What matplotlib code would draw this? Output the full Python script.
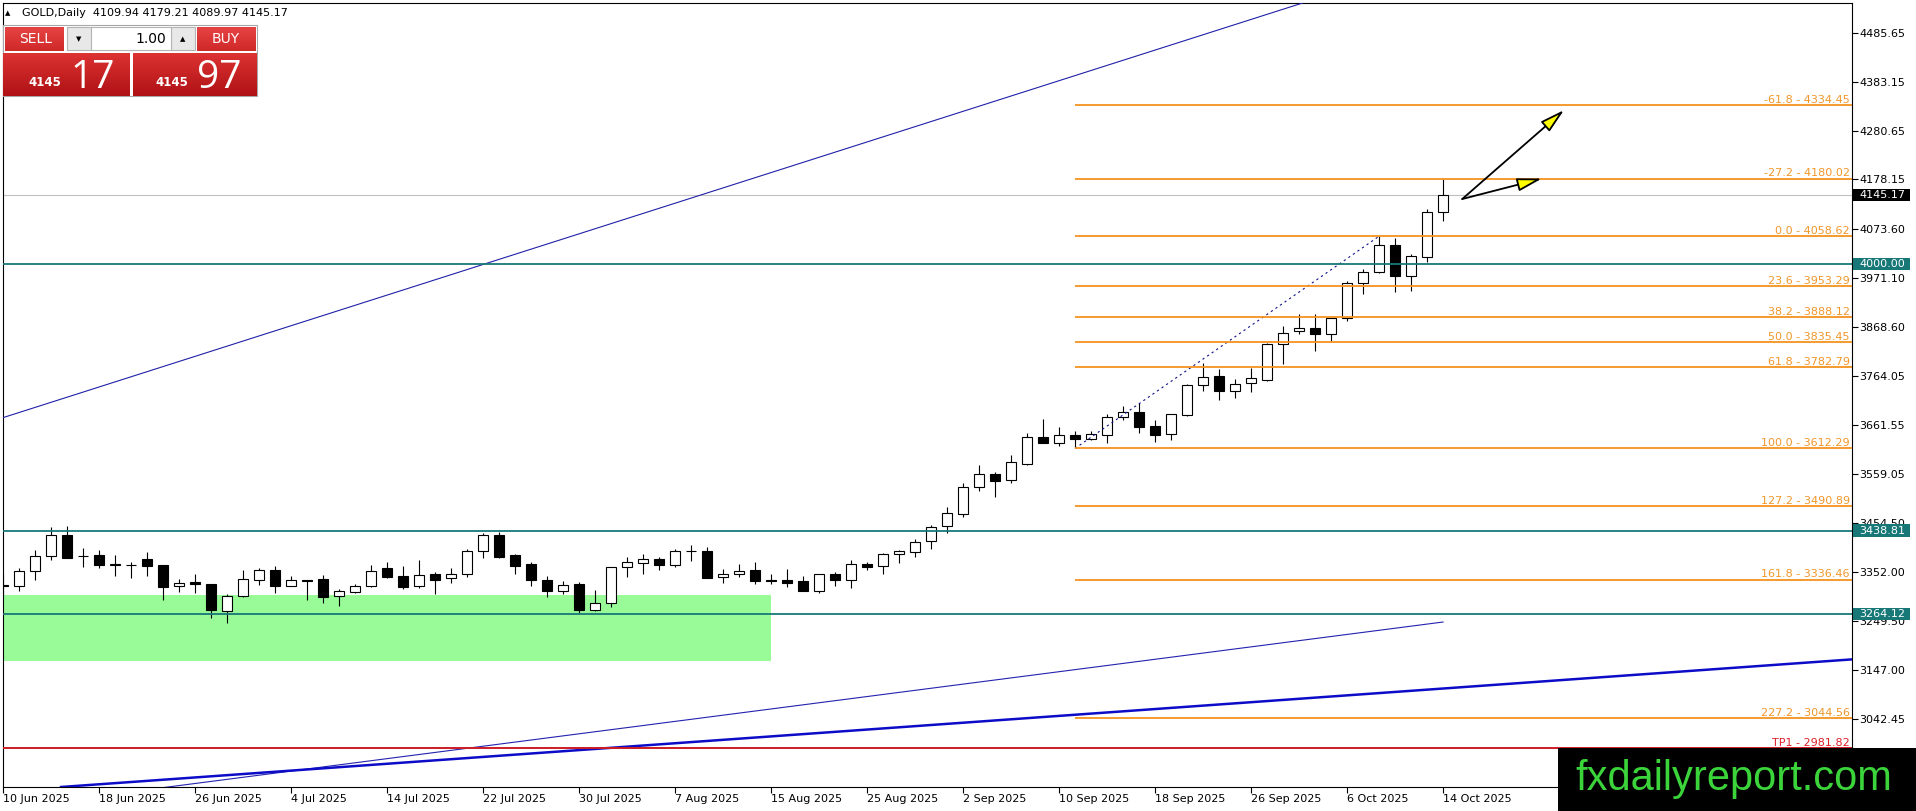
import numpy as np
import matplotlib
matplotlib.use('Agg')
from matplotlib import pyplot as plt
from matplotlib.patches import Rectangle
from matplotlib.transforms import blended_transform_factory

# daily GOLD candles, 10 Jun 2025 .. 14 Oct 2025
opens = [3324, 3322, 3354, 3385, 3431, 3386, 3388, 3368, 3368, 3380,
         3367, 3322, 3331, 3326, 3271, 3301, 3336, 3356, 3323, 3335,
         3337, 3301, 3311, 3322, 3361, 3344, 3322, 3348, 3339, 3349,
         3396, 3431, 3388, 3369, 3335, 3313, 3327, 3273, 3288, 3362,
         3372, 3380, 3368, 3396, 3396, 3341, 3347, 3356, 3335, 3335,
         3333, 3313, 3347, 3336, 3370, 3365, 3391, 3395, 3417, 3448,
         3475, 3532, 3558, 3545, 3579, 3636, 3624, 3640, 3633, 3641,
         3679, 3688, 3659, 3643, 3683, 3745, 3765, 3734, 3749, 3756,
         3832, 3859, 3865, 3854, 3886, 3960, 3983, 4040, 3974, 4016,
         4109.94]
highs = [3347, 3361, 3398, 3446, 3450, 3402, 3398, 3388, 3373, 3394,
         3368, 3337, 3349, 3327, 3307, 3356, 3360, 3365, 3344, 3336,
         3346, 3316, 3328, 3368, 3373, 3365, 3377, 3353, 3360, 3401,
         3434, 3437, 3391, 3373, 3344, 3333, 3332, 3314, 3363, 3384,
         3390, 3384, 3401, 3409, 3405, 3358, 3370, 3373, 3348, 3358,
         3344, 3349, 3353, 3378, 3374, 3392, 3398, 3422, 3452, 3488,
         3540, 3577, 3562, 3598, 3644, 3675, 3657, 3649, 3649, 3685,
         3701, 3707, 3672, 3685, 3748, 3791, 3779, 3759, 3781, 3835,
         3870, 3895, 3895, 3887, 3964, 3990, 4058.62, 4056, 4021, 4115,
         4179.21]
lows = [3302, 3313, 3336, 3378, 3381, 3363, 3361, 3344, 3339, 3344,
        3294, 3311, 3308, 3255, 3246, 3300, 3325, 3308, 3322, 3294,
        3286, 3281, 3309, 3321, 3339, 3316, 3318, 3307, 3329, 3342,
        3381, 3381, 3348, 3323, 3300, 3306, 3267, 3271, 3279, 3342,
        3348, 3357, 3363, 3376, 3339, 3330, 3341, 3328, 3328, 3321,
        3312, 3309, 3323, 3319, 3356, 3348, 3372, 3383, 3401, 3435,
        3469, 3523, 3509, 3539, 3578, 3623, 3618, 3612.29, 3629, 3624,
        3673, 3644, 3626, 3631, 3680, 3734, 3715, 3719, 3732, 3755,
        3790, 3852, 3818, 3838, 3881, 3937, 3982, 3942, 3944, 4005,
        4089.97]
closes = [3323, 3354, 3385, 3431, 3382, 3385, 3367, 3369, 3367, 3365,
          3321, 3330, 3326, 3273, 3301, 3337, 3356, 3323, 3335, 3334,
          3300, 3312, 3323, 3354, 3342, 3321, 3346, 3336, 3349, 3396,
          3430, 3384, 3365, 3335, 3313, 3325, 3272, 3288, 3363, 3373,
          3380, 3368, 3396, 3397, 3340, 3348, 3354, 3334, 3334, 3330,
          3313, 3347, 3336, 3370, 3363, 3391, 3396, 3415, 3446, 3476,
          3532, 3558, 3544, 3584, 3636, 3624, 3640, 3633, 3642, 3678,
          3688, 3658, 3641, 3684, 3745, 3762, 3734, 3747, 3760, 3832,
          3856, 3865, 3854, 3887, 3960, 3983, 4040, 3974, 4017, 4109,
          4145.17]

date_labels = ['10 Jun 2025', '18 Jun 2025', '26 Jun 2025', '4 Jul 2025',
               '14 Jul 2025', '22 Jul 2025', '30 Jul 2025', '7 Aug 2025',
               '15 Aug 2025', '25 Aug 2025', '2 Sep 2025', '10 Sep 2025',
               '18 Sep 2025', '26 Sep 2025', '6 Oct 2025', '14 Oct 2025']
date_step = 6

price_ticks = [4485.65, 4383.15, 4280.65, 4178.15, 4073.60, 3971.10, 3868.60,
               3764.05, 3661.55, 3559.05, 3454.50, 3352.00, 3249.50, 3147.00,
               3042.45]

fib_ratios = ['-61.8', '-27.2', '0.0', '23.6', '38.2', '50.0', '61.8',
              '100.0', '127.2', '161.8', '227.2']
fib_prices = [4334.45, 4180.02, 4058.62, 3953.29, 3888.12, 3835.45, 3782.79,
              3612.29, 3490.89, 3336.46, 3044.56]
fib_start_bar = 67
fib_base = [(67, 3612.29), (86, 4058.62)]

teal_levels = [4000.00, 3438.81, 3264.12]
tp1_level = 2981.82
last_price = 4145.17

zone_bars = (-2, 48)
zone_prices = (3165, 3304)

trend_top = [(0, 3677), (81, 4547)]
trend_thin = [(0, 2855), (90, 3247)]
trend_thick = [(3.67, 2900), (115.6, 3168.5)]
arrow_tail = (91.2, 4137)
arrow_tips = [(97.56, 4324), (96.17, 4180)]

header = 'GOLD,Daily  4109.94 4179.21 4089.97 4145.17'

ORANGE = '#f4921f'
TEAL = '#187878'

plt.rcParams['font.family'] = ['DejaVu Sans']

W, H = 1916, 811
fig = plt.figure(figsize=(W / 100, H / 100), dpi=100)
fig.patch.set_facecolor('white')
ax = fig.add_axes([2.5 / W, (H - 787) / H, (1852 - 2.5) / W, (787 - 3) / H])
ax.set_xlim(-0.03, 115.56)
ax.set_ylim(2899.9, 4549.4)

# candles
x = np.arange(len(opens))
o = np.array(opens, float)
c = np.array(closes, float)
up = c >= o
ax.vlines(x, lows, highs, color='black', lw=0.8, zorder=3)
bottom = np.minimum(o, c)
height = np.maximum(np.abs(c - o), 0.4)
ax.bar(x, height, bottom=bottom, width=0.62,
       color=np.where(up, 'white', 'black'), edgecolor='black',
       linewidth=0.8, zorder=4)

# support zone
ax.add_patch(Rectangle((zone_bars[0], zone_prices[0]),
                       zone_bars[1] - zone_bars[0],
                       zone_prices[1] - zone_prices[0],
                       facecolor='#98fb98', edgecolor='none', zorder=1))

# trend lines
ax.axline(trend_top[0], trend_top[1], color='#2020a8', lw=0.8, zorder=5)
ax.plot(*zip(*trend_thin), color='#2323b0', lw=0.8, zorder=5)
ax.axline(trend_thick[0], trend_thick[1], color='#0c0cc8', lw=1.8, zorder=5)
ax.plot(*zip(*fib_base), color='#10108a', lw=0.8, ls=(0, (2, 3)), zorder=5)

# horizontal levels
ax.axhline(last_price, color='#c0c0c0', lw=0.8, zorder=2)
for lv in teal_levels:
    ax.axhline(lv, color=TEAL, lw=1.3, zorder=6)
ax.axhline(tp1_level, color='#cc1c24', lw=1.4, zorder=6)

ax.hlines(fib_prices, fib_start_bar, 115.56, color=ORANGE, lw=1.3, zorder=6)
lab_tr = blended_transform_factory(ax.transAxes, ax.transData)
for r, p in zip(fib_ratios, fib_prices):
    ax.text(0.9989, p + 1, f'{r} - {p:.2f}', transform=lab_tr, ha='right',
            va='bottom', fontsize=8, color='#f0962a', zorder=7)
ax.text(0.9989, tp1_level + 1, f'TP1 - {tp1_level:.2f}', transform=lab_tr,
        ha='right', va='bottom', fontsize=8, color='#e0202a', zorder=7)

# arrows
for tip in arrow_tips:
    ax.annotate('', xy=tip, xytext=arrow_tail,
                arrowprops=dict(arrowstyle='-|>,head_length=1.5,head_width=0.4',
                                mutation_scale=10, fc='#ffff00', ec='black',
                                lw=1.3, shrinkA=0, shrinkB=0), zorder=8)

# axes styling
for s in ax.spines.values():
    s.set_linewidth(0.8)
    s.set_color('black')
ax.yaxis.tick_right()
ax.set_yticks(price_ticks)
ax.set_yticklabels([f'{p:.2f}' for p in price_ticks])
ax.set_xticks(np.arange(len(date_labels)) * date_step)
ax.set_xticklabels(date_labels)
plt.setp(ax.get_xticklabels(), ha='left')
ax.tick_params(axis='y', direction='out', length=4, width=0.8, pad=1,
               labelsize=8, colors='black')
ax.tick_params(axis='x', direction='out', length=4, width=0.8, pad=1,
               labelsize=8, colors='black')

# price boxes on the scale
for p, col in [(last_price, 'black')] + [(lv, TEAL) for lv in teal_levels]:
    ax.add_patch(Rectangle((1.0008, p - 13.4), 0.0303, 26.8, transform=lab_tr,
                           facecolor=col, edgecolor='none', clip_on=False,
                           zorder=9))
    ax.text(1.0038, p, f'{p:.2f}', transform=lab_tr, ha='left', va='center',
            fontsize=8, color='white', zorder=10, clip_on=False)

# overlay in pixel coordinates: header, trade panel, watermark
ov = fig.add_axes([0, 0, 1, 1], zorder=10)
ov.patch.set_visible(False)
ov.axis('off')


def grad_box(x0, y0, x1, y1, top, bot):
    cm = matplotlib.colors.LinearSegmentedColormap.from_list('g', [top, bot])
    ov.imshow(np.linspace(0, 1, 32).reshape(-1, 1), cmap=cm, aspect='auto',
              extent=(x0, x1, y1, y0), interpolation='bilinear', zorder=2)


ov.text(8, 13, '\u25b2', fontsize=5, va='center', ha='center')
ov.text(22, 13, header, fontsize=8, va='center', ha='left')

ov.add_patch(Rectangle((3, 25), 254, 71, facecolor='white',
                       edgecolor='#a8a8a8', lw=0.8, zorder=1))
grad_box(5, 27, 64, 51, '#e64444', '#d02828')
grad_box(197, 27, 256, 51, '#e64444', '#d02828')
grad_box(3, 53, 130, 96, '#dc3232', '#b01216')
grad_box(133, 53, 257, 96, '#dc3232', '#b01216')
for bx in (67, 171):
    ov.add_patch(Rectangle((bx, 27), 24, 23, facecolor='#e8e8e8',
                           edgecolor='#b4b4b4', lw=0.8, zorder=3))
ov.add_patch(Rectangle((91, 27), 80, 23, facecolor='white',
                       edgecolor='#b4b4b4', lw=0.8, zorder=3))
ov.text(79, 39, '\u25bc', fontsize=5, ha='center', va='center', zorder=4)
ov.text(183, 39, '\u25b2', fontsize=5, ha='center', va='center', zorder=4)
ov.text(166, 39, '1.00', fontsize=10, ha='right', va='center', zorder=4)
ov.text(36, 39, 'SELL', fontsize=10, ha='center', va='center', color='white',
        zorder=4)
ov.text(226, 39, 'BUY', fontsize=10, ha='center', va='center', color='white',
        zorder=4)
for x0, big in [(28, '17'), (155, '97')]:
    ov.text(x0, 86, '4145', fontsize=8.5, fontweight='bold', color='white',
            ha='left', va='baseline', zorder=4)
    ov.text(x0 + 42, 88, big, fontsize=28, color='white', ha='left',
            va='baseline', family='Open Sans', zorder=4)

ov.add_patch(Rectangle((1558, 748), W - 1558, H - 748, facecolor='black',
                       edgecolor='none', zorder=5))
ov.text(1575, 790, 'fxdailyreport.com', fontsize=30, family='Liberation Sans',
        color='#3bd43b', ha='left', va='baseline', zorder=6)

ov.set_xlim(0, W)
ov.set_ylim(H, 0)

fig.savefig('out.png', dpi=100)
